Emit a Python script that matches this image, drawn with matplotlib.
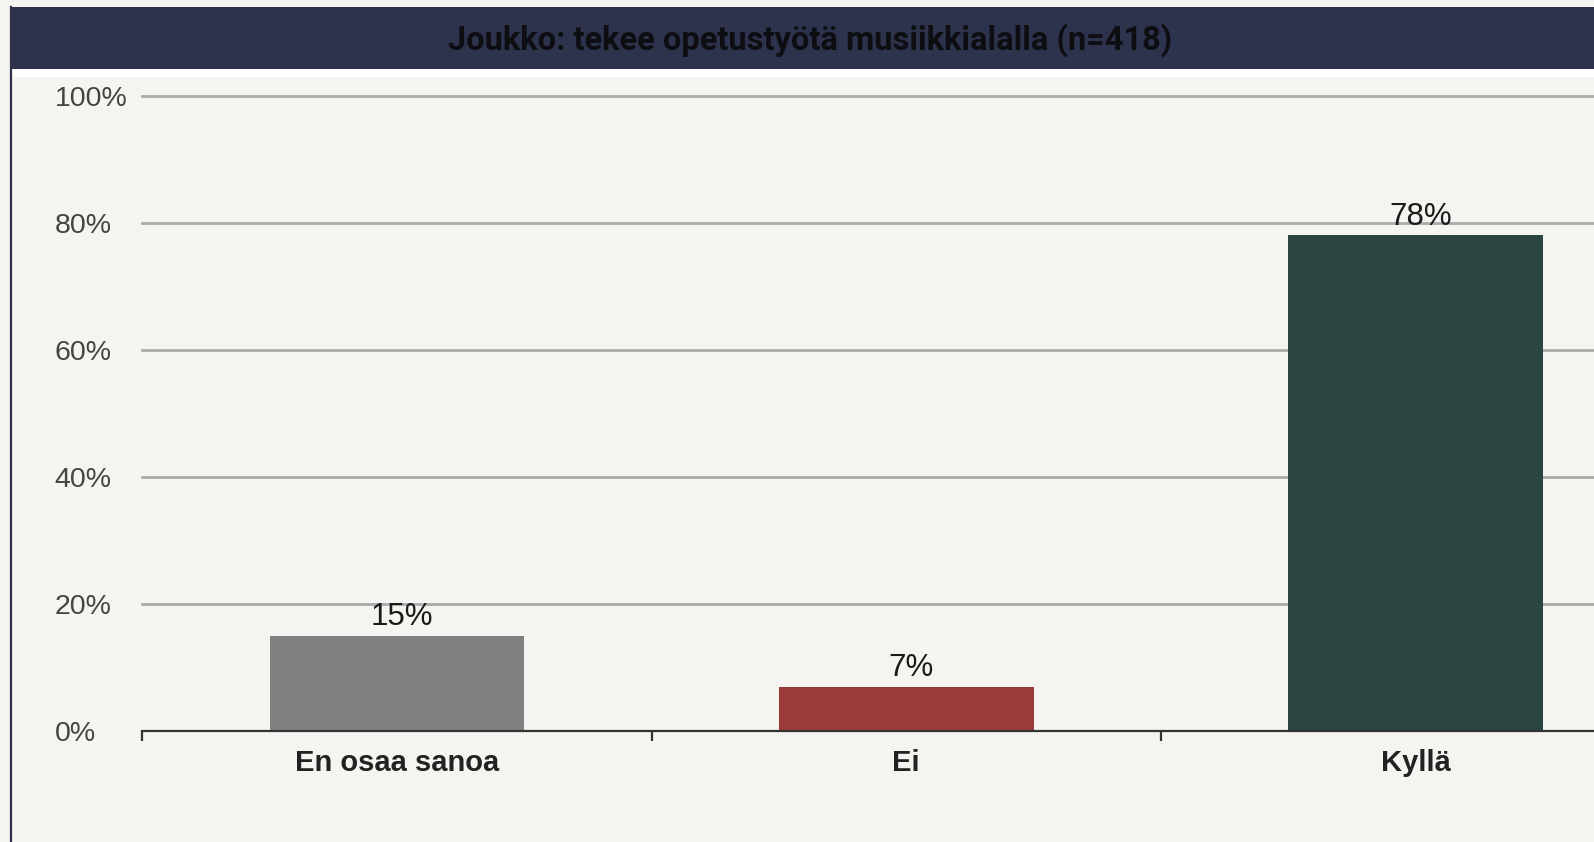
import matplotlib
matplotlib.use("Agg")
import matplotlib.pyplot as plt
from matplotlib.patches import Rectangle
from matplotlib.lines import Line2D

# data
kategoriat = ["En osaa sanoa", "Ei", "Kyllä"]
osuudet = [15, 7, 78]
varit = ["#808080", "#9b3a3a", "#2b4540"]
y_tikit = [0, 20, 40, 60, 80, 100]
otsikko = "Joukko: tekee opetustyötä musiikkialalla (n=418)"

tausta = "#f5f4f0"
navy = "#2d334c"

W, H = 1594, 842
fig = plt.figure(figsize=(W / 100, H / 100), dpi=100, facecolor=tausta)

# otsikkopalkki ja kehykset
fig.patches.append(Rectangle((10 / W, 1 - 69 / H), 1, 62 / H, transform=fig.transFigure,
                             facecolor=navy, edgecolor="none", zorder=0))
fig.patches.append(Rectangle((12 / W, 1 - 77 / H), 1, 8 / H, transform=fig.transFigure,
                             facecolor="white", edgecolor="none", zorder=0))
fig.lines.append(Line2D([11 / W, 11 / W], [0, 1 - 7 / H], transform=fig.transFigure,
                        color=navy, lw=1.6))
fig.text(810 / W, 1 - 40 / H, otsikko, ha="center", va="center", fontsize=23.5,
         fontweight="bold", family="Roboto", color="#0d0d12")

# kuvaaja
ax = fig.add_axes([142.3 / W, (H - 731) / H, 1528 / W, 635.4 / H])
ax.set_facecolor(tausta)
x = list(range(len(kategoriat)))
ax.bar(x, osuudet, width=0.5, color=varit, zorder=3)
ax.set_xlim(-0.5, 2.5)
ax.set_ylim(0, 100)

for yy in y_tikit[1:]:
    ax.axhline(yy, color="#ababab", lw=2.0, zorder=1, clip_on=False)
ax.axhline(0, color="#333333", lw=1.6, zorder=4, clip_on=False)

for s in ax.spines.values():
    s.set_visible(False)

ax.set_yticks(y_tikit)
ax.set_yticklabels([f"{v}%" for v in y_tikit], family="Liberation Sans", fontsize=20.5,
                   color="#444444", ha="left")
ax.tick_params(axis="y", length=0, pad=63)

ax.set_xticks([-0.5, 0.5, 1.5, 2.5])
ax.set_xticklabels([])
ax.tick_params(axis="x", length=7, width=1.6, color="#333333")
for i, k in enumerate(kategoriat):
    ax.text(i, -5.0, k, ha="center", va="center", fontsize=21, fontweight="bold",
            family="Liberation Sans", color="#222222")

for i, v in enumerate(osuudet):
    ax.text(i + 0.01, v + 0.6, f"{v}%", ha="center", va="bottom", fontsize=22.5,
            family="Liberation Sans", color="#1a1a1a")

fig.savefig("out.png", dpi=100, facecolor=tausta)
